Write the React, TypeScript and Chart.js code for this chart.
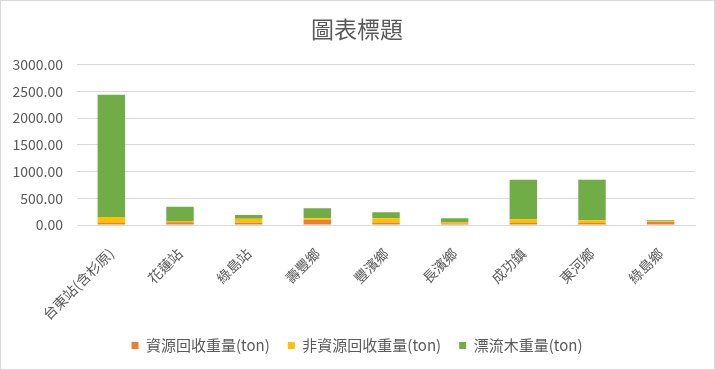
import React, { useEffect, useRef } from "react";
import { Chart, registerables } from "chart.js";

Chart.register(...registerables);

const categories = ["台東站(含杉原)", "花蓮站", "綠島站", "壽豐鄉", "豐濱鄉", "長濱鄉", "成功鎮", "東河鄉", "綠島鄉"];
const recyclable = [38, 51, 44, 95, 45, 27, 38, 38, 57];
const nonRecyclable = [114, 25, 75, 32, 82, 30, 70, 51, 13];
const driftwood = [2285, 265, 70, 189, 113, 70, 739, 758, 19];
const seriesNames = ["資源回收重量(ton)", "非資源回收重量(ton)", "漂流木重量(ton)"];
const seriesColors = ["#ED7D31", "#FFC000", "#70AD47"];
const titleText = "圖表標題";

const FONT = "'Noto Sans CJK TC', 'Noto Sans', sans-serif";

export default function App() {
  const ref = useRef<HTMLCanvasElement>(null);
  useEffect(() => {
    if (!ref.current) return;
    const data = [recyclable, nonRecyclable, driftwood];
    const chart = new Chart(ref.current, {
      type: "bar",
      data: {
        labels: categories,
        datasets: data.map((d, i) => ({
          label: seriesNames[i],
          data: d,
          backgroundColor: seriesColors[i],
          borderWidth: 0,
          categoryPercentage: 1,
          barPercentage: 0.4,
        })),
      },
      options: {
        animation: false,
        responsive: true,
        maintainAspectRatio: false,
        layout: { padding: { left: 12, right: 13, top: 11, bottom: 6 } },
        plugins: {
          title: {
            display: true,
            text: titleText,
            color: "#595959",
            font: { family: FONT, size: 23, weight: "normal" },
            padding: { top: 3, bottom: 22 },
          },
          legend: {
            position: "bottom",
            labels: {
              color: "#595959",
              font: { family: FONT, size: 15 },
              boxWidth: 7,
              boxHeight: 7,
              padding: 18,
            },
          },
          tooltip: { enabled: false },
        },
        scales: {
          x: {
            stacked: true,
            grid: { display: false },
            border: { color: "#d9d9d9" },
            afterFit: (scale: any) => {
              scale.height -= 15;
            },
            ticks: {
              color: "#595959",
              font: { family: FONT, size: 14 },
              minRotation: 45,
              maxRotation: 45,
              autoSkip: false,
              padding: 12,
            },
          },
          y: {
            stacked: true,
            min: 0,
            max: 3000,
            grid: { color: "#d9d9d9", drawTicks: false },
            border: { display: false },
            afterFit: (scale: any) => {
              scale.width = 64;
            },
            ticks: {
              stepSize: 500,
              color: "#595959",
              font: { family: FONT, size: 14 },
              padding: 14,
              callback: (v: any) => Number(v).toFixed(2),
            },
          },
          yPad: {
            position: "right",
            display: true,
            grid: { display: false },
            border: { display: false },
            ticks: { display: false },
            afterFit: (scale: any) => {
              scale.width = 6;
            },
          },
        },
      },
    });
    return () => chart.destroy();
  }, []);
  return (
    <div
      style={{
        position: "absolute",
        left: 0,
        top: 0,
        width: 713,
        height: 368,
        border: "1px solid #d9d9d9",
        background: "#fff",
      }}
    >
      <canvas ref={ref} />
    </div>
  );
}
